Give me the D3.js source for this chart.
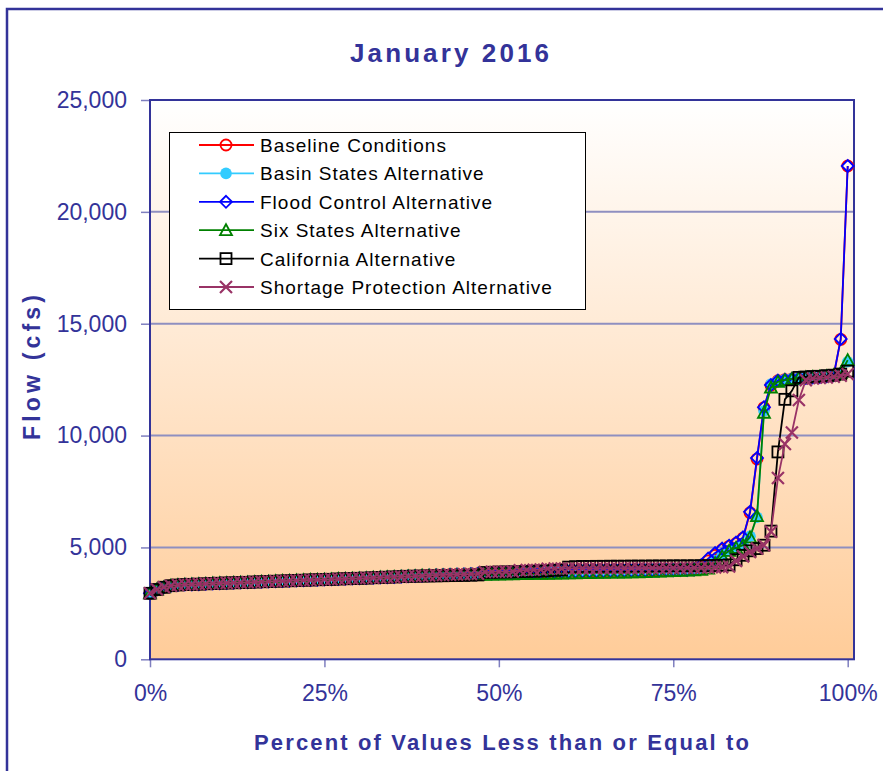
<!DOCTYPE html>
<html><head><meta charset="utf-8">
<script src="https://cdn.jsdelivr.net/npm/d3@7"></script>
<style>body{margin:0;background:#fff;} svg{display:block;font-family:"Liberation Sans",Arial,sans-serif;}</style>
</head><body><svg id="c" width="883" height="771"></svg>
<script>
// ---------- DATA ----------
const percents = [0,1,2,3,4,5,6,7,8,9,10,11,12,13,14,15,16,17,18,19,20,21,22,23,24,25,26,27,28,29,30,31,32,33,34,35,36,37,38,39,40,41,42,43,44,45,46,47,48,49,50,51,52,53,54,55,56,57,58,59,60,61,62,63,64,65,66,67,68,69,70,71,72,73,74,75,76,77,78,79,80,81,82,83,84,85,86,87,88,89,90,91,92,93,94,95,96,97,98,99,100];
const xTicks = [0,25,50,75,100];
const yTicks = [0,5000,10000,15000,20000,25000];
const seriesNames = ["Baseline Conditions","Basin States Alternative","Flood Control Alternative","Six States Alternative","California Alternative","Shortage Protection Alternative"];

const baselineFlow = [2950,3120,3220,3290,3320,3340,3350,3360,3375,3390,3400,3410,3420,3430,3440,3455,3465,3475,3490,3500,3510,3525,3535,3545,3555,3565,3575,3590,3600,3610,3620,3630,3645,3660,3670,3680,3695,3710,3720,3735,3750,3760,3770,3780,3790,3800,3810,3820,
 3830,3840,3850,3855,3860,3870,3875,3880,3890,3895,3900,3905,3910,3915,3920,3925,3930,3935,3940,3945,3950,3955,3960,3965,3970,3975,3980,3985,3990,3995,
 4000,4150,4400,4650,4900,5050,5180,5420,6550,8950,11250,12250,12450,12500,12530,12560,12580,12600,12620,12650,12700,14300,22050];
const basinFlow = [2950,3120,3220,3290,3320,3340,3350,3360,3375,3390,3400,3410,3420,3430,3440,3455,3465,3475,3490,3500,3510,3525,3535,3545,3555,3565,3575,3590,3600,3610,3620,3630,3645,3660,3670,3680,3695,3710,3720,3735,3750,3760,3770,3780,3790,3800,3810,3820,
 3840,3850,3860,3865,3870,3880,3885,3890,3900,3905,3910,3915,3920,3925,3930,3935,3940,3945,3950,3955,3960,3965,3970,3975,3980,3985,3990,3995,4000,4005,4010,4030,
 4150,4400,4650,4850,5000,5150,5500,6350,11100,12300,12450,12500,12550,12580,12600,12620,12640,12660,12700,12800,13300];
const floodFlow = [2950,3120,3220,3290,3320,3340,3350,3360,3375,3390,3400,3410,3420,3430,3440,3455,3465,3475,3490,3500,3510,3525,3535,3545,3555,3565,3575,3590,3600,3610,3620,3630,3645,3660,3670,3680,3695,3710,3720,3735,3750,3760,3770,3780,3790,3800,3810,3820,
 3830,3840,3850,3855,3860,3870,3875,3880,3890,3895,3900,3905,3910,3915,3920,3925,3930,3935,3940,3945,3950,3955,3960,3965,3970,3975,3980,3985,3990,3995,
 4020,4200,4500,4750,4950,5080,5220,5450,6590,9000,11270,12260,12460,12500,12530,12560,12580,12600,12620,12650,12700,14320,22050];
const sixStatesFlow = [2950,3120,3220,3290,3320,3340,3350,3360,3375,3390,3400,3410,3420,3430,3440,3455,3465,3475,3490,3500,3510,3525,3535,3545,3555,3565,3575,3590,3600,3610,3620,3630,3645,3660,3670,3680,3695,3710,3720,3735,
 3740,3745,3750,3755,3760,3765,3770,3775,3780,3785,3790,3795,3800,3805,3810,3815,3820,3825,3830,3835,3840,3845,3850,3855,3860,3865,3870,3875,3880,3885,
 3890,3900,3910,3920,3930,3940,3950,3960,3980,4000,
 4050,4300,4600,4850,4980,5100,5450,6400,11020,12150,12400,12480,12530,12570,12600,12620,12640,12660,12700,12800,13370];
const californiaFlow = [2950,3120,3220,3290,3320,3340,3350,3360,3375,3390,3400,3410,3420,3430,3440,3455,3465,3475,3490,3500,3510,3525,3535,3545,3555,3565,3575,3590,3600,3610,3620,3630,3645,3660,3670,3680,3695,3710,
 3715,3720,3725,3730,3735,3740,3745,3750,3760,3770,
 3880,3890,3900,3905,3910,3920,3930,3940,3950,3960,3980,4000,
 4120,4140,4150,4150,4155,4155,4160,4160,4160,4165,4165,4165,4170,4170,4170,4175,4175,4175,4180,4180,
 4185,4190,4200,4220,4450,4650,4850,4950,5100,5730,9270,11620,12000,12600,12620,12640,12650,12680,12700,12750,12880];
const shortageFlow = [2950,3120,3220,3290,3320,3340,3350,3360,3375,3390,3400,3410,3420,3430,3440,3455,3465,3475,3490,3500,3510,3525,3535,3545,3555,3565,3575,3590,3600,3610,3620,3630,3645,3660,3670,3680,3695,3710,3720,3735,3750,3760,3770,3780,3790,3800,3810,3820,
 3900,3910,3915,3920,3925,3980,3990,4000,4010,4050,4055,4060,
 4060,4060,4065,4065,4065,4070,4070,4070,4075,4075,4075,4080,4080,4080,4085,4085,4085,4090,4090,4095,
 4100,4110,4120,4150,4400,4600,4800,4950,5100,5700,8100,9620,10140,11590,12480,12550,12580,12600,12630,12670,12750];

const seriesValues = [baselineFlow, basinFlow, floodFlow, sixStatesFlow, californiaFlow, shortageFlow];
const seriesColors = ["#FF0000","#33CCFF","#0000FF","#008000","#000000","#993366"];
const seriesMarkers = ["circle","dot","diamond","triangle","square","cross"];

// ---------- CHART ----------
const svg = d3.select("#c");
const navy = "#333399";
const defs = svg.append("defs");
const grad = defs.append("linearGradient").attr("id","bg").attr("x1",0).attr("y1",0).attr("x2",0).attr("y2",1);
grad.append("stop").attr("offset","0%").attr("stop-color","#FFFFFF");
grad.append("stop").attr("offset","100%").attr("stop-color","#FFCC99");

svg.append("rect").attr("x",7).attr("y",9).attr("width",900).attr("height",800)
  .attr("fill","#fff").attr("stroke",navy).attr("stroke-width",2.5);

const P = {l:150, t:100, r:854, b:659.3};
const x = d3.scaleLinear().domain([0,100]).range([150,847.7]);
const y = d3.scaleLinear().domain([0,25000]).range([659.3,100]);

svg.append("rect").attr("x",P.l).attr("y",P.t).attr("width",P.r-P.l).attr("height",P.b-P.t).attr("fill","url(#bg)");

// gridlines
svg.append("g").selectAll("line").data(yTicks.filter(v=>v>0 && v<25000)).join("line")
  .attr("x1",P.l).attr("x2",P.r).attr("y1",d=>y(d)).attr("y2",d=>y(d))
  .attr("stroke","#8F8FC0").attr("stroke-width",2);

// axes
const yAxis = svg.append("g").attr("transform",`translate(${P.l},0)`)
  .call(d3.axisLeft(y).tickValues(yTicks).tickFormat(d3.format(",")).tickSize(9).tickPadding(14));
const xAxis = svg.append("g").attr("transform",`translate(0,${P.b})`)
  .call(d3.axisBottom(x).tickValues(xTicks).tickFormat(d=>d+"%").tickSize(8).tickPadding(17));
[yAxis,xAxis].forEach(a=>{
  a.select(".domain").remove();
  a.selectAll(".tick line").attr("stroke","#7F7FBF").attr("stroke-width",1.5);
  a.selectAll(".tick text").attr("fill",navy).attr("font-size",23).attr("font-family","'Liberation Sans',Arial,sans-serif");
});

// plot frame
svg.append("rect").attr("x",P.l).attr("y",P.t).attr("width",P.r-P.l).attr("height",P.b-P.t)
  .attr("fill","none").attr("stroke",navy).attr("stroke-width",2);

// markers
function marker(g, type, color, cx, cy){
  const s = 6;
  if(type==="circle") g.append("circle").attr("cx",cx).attr("cy",cy).attr("r",5.5).attr("fill","none").attr("stroke",color).attr("stroke-width",1.8);
  else if(type==="dot") g.append("circle").attr("cx",cx).attr("cy",cy).attr("r",5.8).attr("fill",color);
  else if(type==="diamond") g.append("path").attr("d",`M${cx},${cy-s}L${cx+s},${cy}L${cx},${cy+s}L${cx-s},${cy}Z`).attr("fill","none").attr("stroke",color).attr("stroke-width",1.8);
  else if(type==="triangle") g.append("path").attr("d",`M${cx},${cy-6}L${cx+6},${cy+5}L${cx-6},${cy+5}Z`).attr("fill","none").attr("stroke",color).attr("stroke-width",1.8);
  else if(type==="square") g.append("rect").attr("x",cx-5.5).attr("y",cy-5.5).attr("width",11).attr("height",11).attr("fill","none").attr("stroke",color).attr("stroke-width",1.8);
  else if(type==="cross") g.append("path").attr("d",`M${cx-6},${cy-6}L${cx+6},${cy+6}M${cx-6},${cy+6}L${cx+6},${cy-6}`).attr("fill","none").attr("stroke",color).attr("stroke-width",2.2);
}

const line = d3.line().x((d,i)=>x(percents[i])).y(d=>y(d));
seriesValues.forEach((vals,k)=>{
  const g = svg.append("g");
  g.append("path").attr("d",line(vals)).attr("fill","none").attr("stroke",seriesColors[k]).attr("stroke-width",1.8);
  vals.forEach((v,i)=>marker(g, seriesMarkers[k], seriesColors[k], x(percents[i]), y(v)));
});

// legend
const lg = svg.append("g");
lg.append("rect").attr("x",169.5).attr("y",132.5).attr("width",416).attr("height",177).attr("fill","#fff").attr("stroke","#000").attr("stroke-width",1);
seriesNames.forEach((n,k)=>{
  const cy = 145 + k*28.4;
  lg.append("line").attr("x1",199).attr("x2",254).attr("y1",cy).attr("y2",cy).attr("stroke",seriesColors[k]).attr("stroke-width",1.8);
  marker(lg, seriesMarkers[k], seriesColors[k], 226, cy);
  lg.append("text").attr("x",260).attr("y",cy+7).attr("font-size",19).attr("letter-spacing",1).attr("fill","#000").text(n);
});

// titles
svg.append("text").attr("x",449.5).attr("y",62).attr("text-anchor","middle").attr("font-size",26).attr("font-weight","bold")
  .attr("fill",navy).attr("textLength",199).attr("lengthAdjust","spacing").text("January 2016");
svg.append("text").attr("transform","translate(40,367.5) rotate(-90)").attr("text-anchor","middle").attr("font-size",23).attr("font-weight","bold")
  .attr("fill",navy).attr("textLength",145).attr("lengthAdjust","spacing").text("Flow (cfs)");
svg.append("text").attr("x",501.5).attr("y",750).attr("text-anchor","middle").attr("font-size",22).attr("font-weight","bold")
  .attr("fill",navy).attr("textLength",495).attr("lengthAdjust","spacing").text("Percent of Values Less than or Equal to");
</script>
</body></html>
